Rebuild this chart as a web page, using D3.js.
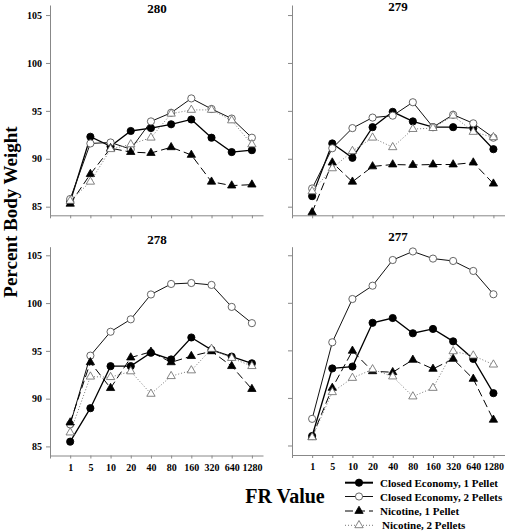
<!DOCTYPE html>
<html><head><meta charset="utf-8">
<script src="https://cdn.jsdelivr.net/npm/d3@7"></script>
<style>
body{margin:0;background:#fff}
svg{display:block}
text{font-family:"Liberation Serif","Times New Roman",serif;fill:#000}
</style>
</head><body>
<svg id="chart" width="511" height="532"></svg>
<script>
// ---- data ----
const frValues = ["1","5","10","20","40","80","160","320","640","1280"];
const seriesNames = ["Closed Economy, 1 Pellet","Closed Economy, 2 Pellets","Nicotine, 1 Pellet","Nicotine, 2 Pellets"];
const subjects = ["280","279","278","277"];
const yTicks = [85,90,95,100,105];

const s280_ce1 = [85.5,92.3,91.3,92.9,93.2,93.6,94.1,92.2,90.7,90.9];
const s280_ce2 = [85.8,91.6,91.7,91.0,93.9,94.8,96.3,95.2,94.2,92.2];
const s280_n1  = [85.3,88.4,91.1,90.7,90.6,91.2,90.4,87.6,87.2,87.3];
const s280_n2  = [85.6,87.6,91.0,91.5,92.2,94.7,95.1,95.1,94.0,91.5];

const s279_ce1 = [86.1,91.6,90.1,93.3,94.9,93.9,93.3,93.3,93.2,91.0];
const s279_ce2 = [86.9,91.1,93.2,94.3,94.5,95.9,93.3,94.6,93.7,92.2];
const s279_n1  = [84.4,89.6,87.6,89.2,89.4,89.35,89.4,89.4,89.6,87.4];
const s279_n2  = [86.6,89.0,90.8,92.2,91.2,93.1,93.2,94.5,92.8,92.25];

const s278_ce1 = [85.5,89.0,93.4,93.4,94.8,94.1,96.4,95.1,94.4,93.7];
const s278_ce2 = [87.3,94.5,97.0,98.3,100.9,102.0,102.1,101.9,99.6,97.9];
const s278_n1  = [87.5,93.8,91.1,94.3,94.9,93.8,94.45,94.95,93.4,91.0];
const s278_n2  = [86.45,92.3,92.25,92.85,90.5,92.35,92.95,95.2,94.25,93.4];

const s277_ce1 = [86.0,93.1,93.3,97.9,98.4,96.8,97.25,95.95,94.1,90.5];
const s277_ce2 = [87.8,95.85,100.4,101.8,104.5,105.4,104.65,104.4,103.35,100.9];
const s277_n1  = [85.9,91.05,94.95,92.8,92.7,94.0,93.05,94.1,92.0,87.7];
const s277_n2  = [85.85,90.6,92.1,93.0,92.25,90.15,91.05,94.9,94.45,93.5];

const panelData = {
  "280": [s280_ce1, s280_ce2, s280_n1, s280_n2],
  "279": [s279_ce1, s279_ce2, s279_n1, s279_n2],
  "278": [s278_ce1, s278_ce2, s278_n1, s278_n2],
  "277": [s277_ce1, s277_ce2, s277_n1, s277_n2]
};

// ---- styles ----
const styles = [
  {marker:"circle", fill:"#000", stroke:"#000", lineW:1.3, dash:null, lineColor:"#000"},
  {marker:"circle", fill:"#fff", stroke:"#555", lineW:1, dash:null, lineColor:"#111"},
  {marker:"triangle", fill:"#000", stroke:"#000", lineW:1, dash:"8,4", lineColor:"#000"},
  {marker:"triangle", fill:"#fff", stroke:"#666", lineW:1, dash:"1,2", lineColor:"#777"}
];

// ---- layout ----
const layout = {
  "280": {x0:50, x1:263, yTop:5, yBot:215.3, yDom:[84.1,106.05], showY:true, showX:false, tx:157, ty:13},
  "279": {x0:292, x1:504.5, yTop:5, yBot:215.3, yDom:[84.1,106.05], showY:false, showX:false, tx:398, ty:11},
  "278": {x0:50, x1:263, yTop:246.7, yBot:455.5, yDom:[84.05,105.9], showY:true, showX:true, tx:157, ty:244},
  "277": {x0:292, x1:504.5, yTop:246.7, yBot:455, yDom:[84.0,105.9], showY:false, showX:true, tx:398, ty:241}
};

const svg = d3.select("#chart");
const axisColor = "#888";
const tickFont = '"Liberation Serif","Times New Roman",serif';

function markerPath(type, sel, st) {
  if (type === "circle") {
    sel.append("circle").attr("r", 3.6)
      .attr("fill", st.fill).attr("stroke", st.stroke).attr("stroke-width", 0.9);
  } else {
    sel.append("path").attr("d", d3.symbol(d3.symbolTriangle, 30)())
      .attr("fill", st.fill).attr("stroke", st.stroke).attr("stroke-width", 0.8);
  }
}

subjects.forEach(subj => {
  const L = layout[subj];
  const x = d3.scaleLinear().domain([0, 10.55]).range([L.x0, L.x1]);
  const y = d3.scaleLinear().domain(L.yDom).range([L.yBot, L.yTop]);
  const g = svg.append("g");

  // y axis
  const ya = g.append("g").attr("transform", `translate(${L.x0},0)`)
    .call(d3.axisLeft(y).tickValues(yTicks).tickSize(4).tickSizeOuter(0).tickPadding(4)
      .tickFormat(L.showY ? d3.format("d") : () => ""));
  ya.select(".domain").attr("stroke", axisColor);
  ya.selectAll(".tick line").attr("stroke", axisColor);
  ya.selectAll("text").style("font-size", "10px").style("font-weight", "bold")
    .style("font-family", tickFont).attr("fill", "#000");

  // x axis
  const xa = g.append("g").attr("transform", `translate(0,${L.yBot})`)
    .call(d3.axisBottom(x).tickValues(d3.range(0, 11)).tickSize(3).tickSizeOuter(0).tickPadding(5)
      .tickFormat(i => (L.showX && i > 0) ? frValues[i - 1] : ""));
  xa.select(".domain").attr("stroke", axisColor);
  xa.selectAll(".tick line").attr("stroke", axisColor);
  xa.selectAll("text").style("font-size", "10px").style("font-weight", "bold")
    .style("font-family", tickFont).attr("fill", "#000");

  // title
  g.append("text").attr("x", L.tx).attr("y", L.ty).attr("text-anchor", "middle")
    .style("font-size", "13px").style("font-weight", "bold").text(subj);

  // series
  panelData[subj].forEach((vals, si) => {
    const st = styles[si];
    const pts = vals.map((v, i) => [x(i + 1), y(v)]);
    g.append("path").attr("d", d3.line()(pts)).attr("fill", "none")
      .attr("stroke", st.lineColor).attr("stroke-width", st.lineW)
      .attr("stroke-dasharray", st.dash);
    pts.forEach(p => {
      const m = g.append("g").attr("transform", `translate(${p[0]},${p[1]})`);
      markerPath(st.marker, m, st);
    });
  });
});

// axis titles
svg.append("text").attr("transform", "translate(17,212) rotate(-90)")
  .attr("text-anchor", "middle").style("font-size", "19px").style("font-weight", "bold")
  .text("Percent Body Weight");
svg.append("text").attr("x", 285).attr("y", 503).attr("text-anchor", "middle")
  .style("font-size", "20px").style("font-weight", "bold").text("FR Value");

// legend
const legRows = [482.7, 496.5, 511, 525.3];
seriesNames.forEach((name, si) => {
  const st = styles[si];
  const lg = svg.append("g").attr("transform", `translate(0,${legRows[si]})`);
  lg.append("line").attr("x1", 345).attr("x2", 373).attr("y1", 0).attr("y2", 0)
    .attr("stroke", st.lineColor).attr("stroke-width", si === 0 ? 2 : st.lineW)
    .attr("stroke-dasharray", st.dash);
  const m = lg.append("g").attr("transform", "translate(359,0)");
  markerPath(st.marker, m, st);
  lg.append("text").attr("x", si === 3 ? 382 : 380).attr("y", 4)
    .style("font-size", "11px").style("font-weight", "bold").text(name);
});
</script>
</body></html>
